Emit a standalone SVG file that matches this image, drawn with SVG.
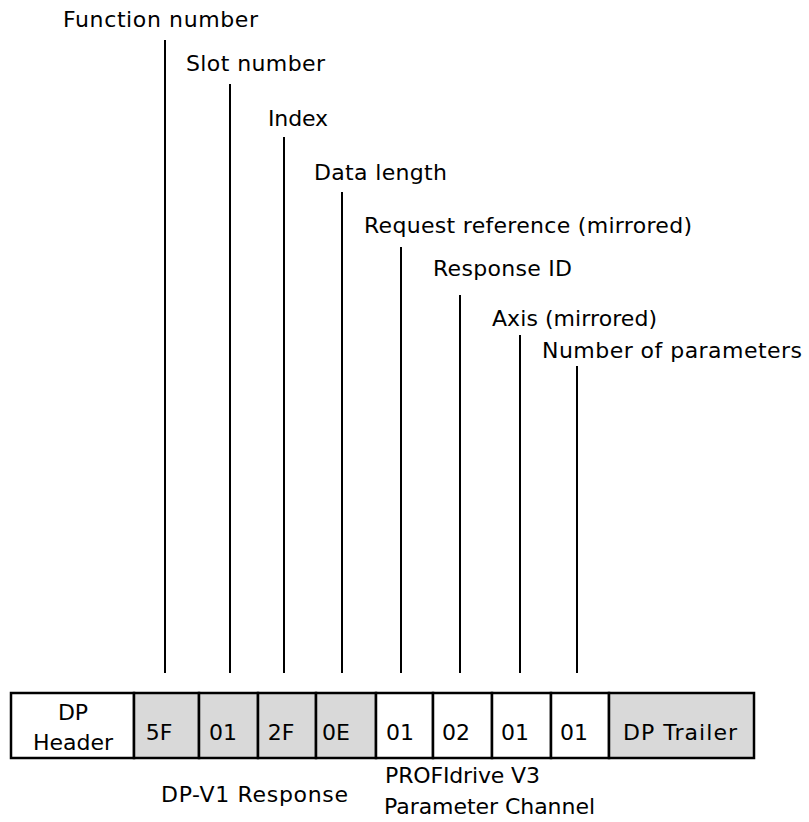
<svg xmlns="http://www.w3.org/2000/svg" width="809" height="822" viewBox="0 0 809 822">
<style>
text{font-family:"DejaVu Sans","Liberation Sans",sans-serif;font-size:22px;fill:#000}
.c{text-anchor:middle}
.cell{stroke:#000;stroke-width:2.5}
.w{fill:#fff}
.g{fill:#d9d9d9}
.ln{stroke:#000;stroke-width:2;fill:none}
</style>
<rect width="809" height="822" fill="#fff"/>
<g id="labels">
<g id="lbl-function"><text x="63" y="27" textLength="195">Function number</text></g>
<g id="lbl-slot"><text x="186" y="71" textLength="139">Slot number</text></g>
<g id="lbl-index"><text x="268" y="126" textLength="60">Index</text></g>
<g id="lbl-datalen"><text x="314" y="180" textLength="133">Data length</text></g>
<g id="lbl-reqref"><text x="364" y="233" textLength="328">Request reference (mirrored)</text></g>
<g id="lbl-respid"><text x="433" y="276" textLength="139">Response ID</text></g>
<g id="lbl-axis"><text x="492" y="326" textLength="165">Axis (mirrored)</text></g>
<g id="lbl-nparams"><text x="542" y="358" textLength="260">Number of parameters</text></g>
</g>
<g id="connectors">
<line class="ln" x1="165" y1="40" x2="165" y2="673"/>
<line class="ln" x1="230" y1="84" x2="230" y2="673"/>
<line class="ln" x1="284" y1="137" x2="284" y2="673"/>
<line class="ln" x1="342" y1="192" x2="342" y2="673"/>
<line class="ln" x1="401" y1="247" x2="401" y2="673"/>
<line class="ln" x1="460" y1="295" x2="460" y2="673"/>
<line class="ln" x1="520" y1="335" x2="520" y2="673"/>
<line class="ln" x1="577" y1="366" x2="577" y2="673"/>
</g>
<g id="cell-header"><rect class="cell w" x="11" y="693" width="123" height="65"/><text class="c" x="73" y="720">DP</text><text class="c" x="73" y="750">Header</text></g>
<g id="cell-5F"><rect class="cell g" x="134" y="693" width="65" height="65"/><text class="c" x="159" y="740">5F</text></g>
<g id="cell-01a"><rect class="cell g" x="199" y="693" width="59" height="65"/><text class="c" x="223" y="740">01</text></g>
<g id="cell-2F"><rect class="cell g" x="258" y="693" width="58" height="65"/><text class="c" x="281" y="740">2F</text></g>
<g id="cell-0E"><rect class="cell g" x="316" y="693" width="60" height="65"/><text class="c" x="336" y="740">0E</text></g>
<g id="cell-01b"><rect class="cell w" x="376" y="693" width="57" height="65"/><text class="c" x="400" y="740">01</text></g>
<g id="cell-02"><rect class="cell w" x="433" y="693" width="59" height="65"/><text class="c" x="456" y="740">02</text></g>
<g id="cell-01c"><rect class="cell w" x="492" y="693" width="59" height="65"/><text class="c" x="515" y="740">01</text></g>
<g id="cell-01d"><rect class="cell w" x="551" y="693" width="58" height="65"/><text class="c" x="574" y="740">01</text></g>
<g id="cell-trailer"><rect class="cell g" x="609" y="693" width="145" height="65"/><text class="c" x="680" y="740" textLength="114">DP Trailer</text></g>
<g id="group-labels">
<g id="lbl-dpv1"><text x="161" y="802" textLength="187">DP-V1 Response</text></g>
<g id="lbl-profidrive"><text x="385" y="783" textLength="155">PROFIdrive V3</text><text x="384" y="814" textLength="211">Parameter Channel</text></g>
</g>
</svg>
